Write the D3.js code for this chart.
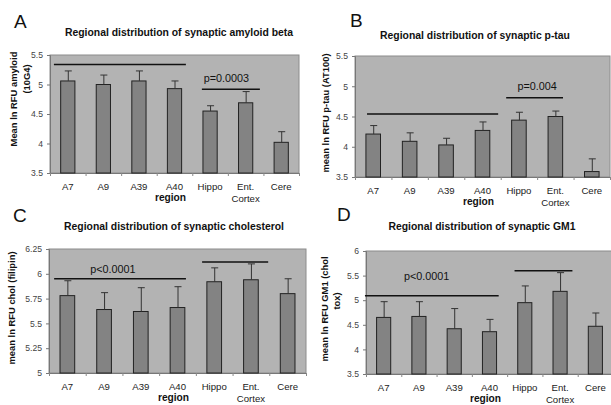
<!DOCTYPE html>
<html>
<head>
<meta charset="utf-8">
<script src="https://cdn.jsdelivr.net/npm/d3@7"></script>
<style>
  body { margin: 0; background: #fff; }
  svg text { font-family: "Liberation Sans", Arial, sans-serif; }
</style>
</head>
<body>
<div id="chart"></div>
<script>
// Datos
const categories = ["A7", "A9", "A39", "A40", "Hippo", "Ent. Cortex", "Cere"];

const amyloidMeans = [5.06, 5.00, 5.06, 4.93, 4.55, 4.69, 4.02];
const amyloidErr   = [0.17, 0.16, 0.17, 0.13, 0.09, 0.19, 0.18];
const amyloidTicks = [3.5, 4, 4.5, 5, 5.5];

const ptauMeans = [4.21, 4.09, 4.03, 4.27, 4.44, 4.50, 3.59];
const ptauErr   = [0.14, 0.14, 0.11, 0.14, 0.13, 0.09, 0.21];
const ptauTicks = [3.5, 4, 4.5, 5, 5.5];

const cholMeans = [5.78, 5.64, 5.62, 5.66, 5.92, 5.94, 5.80];
const cholErr   = [0.15, 0.17, 0.24, 0.21, 0.14, 0.16, 0.15];
const cholTicks = [5, 5.25, 5.5, 5.75, 6, 6.25];

const gm1Means = [4.65, 4.67, 4.42, 4.36, 4.95, 5.18, 4.47];
const gm1Err   = [0.32, 0.30, 0.41, 0.25, 0.34, 0.38, 0.27];
const gm1Ticks = [3.5, 4, 4.5, 5, 5.5, 6];

// Líneas de significancia: [desde, hasta] en unidades de categoría, y valor
const amyloidSig = [{ from: 0.11, to: 3.82, value: 5.34 }, { from: 4.27, to: 5.9, value: 4.92 }];
const amyloidP   = { text: "p=0.0003", at: 4.96, value: 5.04 };
const ptauSig = [{ from: 0.33, to: 3.93, value: 4.54 }, { from: 4.15, to: 5.71, value: 4.81 }];
const ptauP   = { text: "p=0.004", at: 5.0, value: 4.94 };
const cholSig = [{ from: 0.14, to: 3.73, value: 5.95 }, { from: 4.17, to: 5.97, value: 6.12 }];
const cholP   = { text: "p<0.0001", at: 1.74, value: 6.01 };
const gm1Sig = [{ from: -0.03, to: 3.76, value: 5.09 }, { from: 4.21, to: 5.85, value: 5.6 }];
const gm1P   = { text: "p<0.0001", at: 1.72, value: 5.41 };

const svg = d3.select("#chart").append("svg")
    .attr("width", 611)
    .attr("height", 405);

svg.append("rect").attr("width", 611).attr("height", 405).attr("fill", "white");

function drawPanel(cfg) {
    const x = d3.scaleBand().domain(categories)
        .range([cfg.x0, cfg.x1]).paddingInner(0.6).paddingOuter(0.3);
    const xs = d3.scaleLinear().domain([0, categories.length]).range([cfg.x0, cfg.x1]);
    const y = d3.scaleLinear().domain(cfg.domain).range([cfg.y1, cfg.y0]);

    const g = svg.append("g");

    // Letra del panel
    g.append("text").attr("x", cfg.letterX).attr("y", cfg.letterY)
        .attr("font-size", 19).attr("fill", "#111").text(cfg.letter);

    // Título
    g.append("text").attr("x", cfg.titleX).attr("y", cfg.titleY)
        .attr("text-anchor", "middle").attr("font-size", 10.4).attr("font-weight", "bold")
        .attr("fill", "#111").text(cfg.title);

    // Fondo del área de trazado
    g.append("rect").attr("x", cfg.x0).attr("y", cfg.y0)
        .attr("width", cfg.x1 - cfg.x0).attr("height", cfg.y1 - cfg.y0)
        .attr("fill", "#b3b3b3").attr("stroke", "#8c8c8c").attr("stroke-width", 1);

    // Eje Y
    const yAxis = g.append("g").attr("transform", `translate(${cfg.x0},0)`)
        .call(d3.axisLeft(y).tickValues(cfg.ticks).tickSize(3).tickPadding(4).tickFormat(d => d));
    yAxis.select(".domain").attr("stroke", "#777");
    yAxis.selectAll(".tick line").attr("stroke", "#777");
    yAxis.selectAll("text").attr("font-size", 8.6).attr("fill", "#444")
        .style("font-family", "'Liberation Sans', Arial, sans-serif");

    // Eje X: marcas en los límites de categoría
    const xAxis = g.append("g").attr("transform", `translate(0,${cfg.y1})`)
        .call(d3.axisBottom(xs).tickValues(d3.range(0, categories.length + 1)).tickSize(3).tickFormat(""));
    xAxis.select(".domain").attr("stroke", "#777");
    xAxis.selectAll(".tick line").attr("stroke", "#888");

    // Etiquetas de categoría
    g.selectAll(".cat").data(categories).enter().append("text")
        .attr("text-anchor", "middle").attr("font-size", 9.6).attr("fill", "#222")
        .attr("x", d => x(d) + x.bandwidth() / 2)
        .attr("y", cfg.y1 + 17)
        .each(function (d) {
            const parts = d.split(" ");
            d3.select(this).selectAll("tspan").data(parts).enter().append("tspan")
                .attr("x", x(d) + x.bandwidth() / 2)
                .attr("dy", (p, i) => i === 0 ? 0 : 11.5)
                .text(p => p);
        });

    // "region"
    g.append("text").attr("x", x("A40") + x.bandwidth() / 2 - 4).attr("y", cfg.y1 + 28)
        .attr("text-anchor", "middle").attr("font-size", 10.2).attr("font-weight", "bold")
        .attr("fill", "#111").text("region");

    // Etiqueta del eje Y
    cfg.yLabel.forEach((line, i) => {
        g.append("text")
            .attr("transform", `translate(${cfg.yLabelX[i]},${cfg.yLabelY[i]}) rotate(-90)`)
            .attr("text-anchor", "middle").attr("font-size", 9.4).attr("font-weight", "bold")
            .attr("fill", "#111").text(line);
    });

    // Barras
    g.selectAll(".bar").data(cfg.means).enter().append("rect")
        .attr("x", (d, i) => x(categories[i]))
        .attr("y", d => y(d))
        .attr("width", x.bandwidth())
        .attr("height", d => y(cfg.domain[0]) - y(d))
        .attr("fill", "#838383").attr("stroke", "#222").attr("stroke-width", 1);

    // Barras de error (solo superior)
    cfg.means.forEach((m, i) => {
        const cx = x(categories[i]) + x.bandwidth() / 2 + 0.5;
        g.append("line").attr("x1", cx).attr("x2", cx)
            .attr("y1", y(m)).attr("y2", y(m + cfg.err[i]))
            .attr("stroke", "#333").attr("stroke-width", 1);
        g.append("line").attr("x1", cx - 3.5).attr("x2", cx + 3.5)
            .attr("y1", y(m + cfg.err[i])).attr("y2", y(m + cfg.err[i]))
            .attr("stroke", "#333").attr("stroke-width", 1);
    });

    // Líneas de significancia
    cfg.sig.forEach(s => {
        g.append("line").attr("x1", xs(s.from)).attr("x2", xs(s.to))
            .attr("y1", y(s.value)).attr("y2", y(s.value))
            .attr("stroke", "#111").attr("stroke-width", 1.5);
    });
    g.append("text").attr("x", xs(cfg.p.at)).attr("y", y(cfg.p.value))
        .attr("text-anchor", "middle").attr("font-size", 10.8).attr("fill", "#111")
        .text(cfg.p.text);
}

drawPanel({
    letter: "A", letterX: 14, letterY: 28,
    title: "Regional distribution of synaptic amyloid beta", titleX: 179, titleY: 36,
    x0: 50, x1: 299, y0: 55, y1: 173,
    domain: [3.5, 5.5], ticks: amyloidTicks,
    means: amyloidMeans, err: amyloidErr, sig: amyloidSig, p: amyloidP,
    yLabel: ["Mean ln RFU amyloid", "(10G4)"], yLabelX: [17, 30], yLabelY: [99, 79]
});

drawPanel({
    letter: "B", letterX: 350, letterY: 27,
    title: "Regional distribution of synaptic p-tau", titleX: 475, titleY: 39,
    x0: 355, x1: 610, y0: 56, y1: 177,
    domain: [3.5, 5.5], ticks: ptauTicks,
    means: ptauMeans, err: ptauErr, sig: ptauSig, p: ptauP,
    yLabel: ["mean ln RFU p-tau (AT100)"], yLabelX: [329], yLabelY: [113]
});

drawPanel({
    letter: "C", letterX: 13, letterY: 222,
    title: "Regional distribution of synaptic cholesterol", titleX: 174, titleY: 230,
    x0: 49, x1: 306, y0: 249, y1: 373,
    domain: [5, 6.25], ticks: cholTicks,
    means: cholMeans, err: cholErr, sig: cholSig, p: cholP,
    yLabel: ["mean ln RFU chol (filipin)"], yLabelX: [15], yLabelY: [308]
});

drawPanel({
    letter: "D", letterX: 337, letterY: 221,
    title: "Regional distribution of synaptic GM1", titleX: 482, titleY: 230,
    x0: 366, x1: 613, y0: 251, y1: 374,
    domain: [3.5, 6], ticks: gm1Ticks,
    means: gm1Means, err: gm1Err, sig: gm1Sig, p: gm1P,
    yLabel: ["mean ln RFU GM1 (chol", "tox)"], yLabelX: [328, 340], yLabelY: [309, 301]
});
</script>
</body>
</html>
